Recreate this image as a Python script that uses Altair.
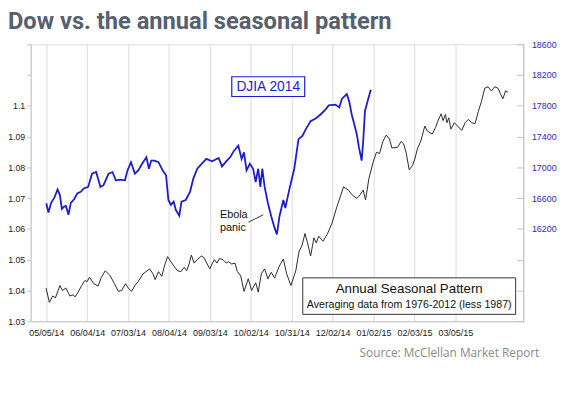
import altair as alt
import pandas as pd

title_text = "Dow vs. the annual seasonal pattern"
source_text = "Source: McClellan Market Report"

# x positions are trading-day indices; labels shown at these indices
tick_idx = [8, 29, 50, 71, 92, 113, 134, 155, 176, 197, 218]
tick_labels = ["05/05/14", "06/04/14", "07/03/14", "08/04/14", "09/03/14", "10/02/14",
               "10/31/14", "12/02/14", "01/02/15", "02/03/15", "03/05/15"]

left_ticks = [1.03, 1.04, 1.05, 1.06, 1.07, 1.08, 1.09, 1.10, 1.11, 1.12]
right_ticks = [15000, 15400, 15800, 16200, 16600, 17000, 17400, 17800, 18200, 18600]

# DJIA 2014 (right axis)
djia_idx = [8, 9.1, 10.5, 12.1, 13.8, 15, 16, 17.2, 18.1, 19.4,
            20.6, 22.3, 23.9, 25.7, 27.3, 29.5, 31.5, 33.6, 35.8, 37.4,
            40, 42, 43.7, 45.9, 48.4, 49.7, 51.5, 53.5, 55.2, 57.2,
            59.4, 60.7, 61.9, 63.6, 65.6, 67.8, 69.5, 70.7, 72, 73.4,
            74.5, 76.3, 77.4, 79.6, 81.8, 83.5, 85.5, 88.1, 90.2, 93.1,
            96.5, 98.2, 100.7, 102.4, 104.4, 106.6, 108.3, 109.5, 110.8, 112.5,
            114.2, 115.5, 116.8, 117.9, 118.9, 120.1, 121.8, 123.5, 125.2, 126.4,
            127.7, 129.7, 130.7, 132.7, 135.3, 137.5, 139.5, 141.2, 143.7, 146.3,
            148.8, 151.3, 153, 156.4, 158.4, 159.8, 162.3, 163.5, 164.8, 166.1,
            167.4, 168.5, 169.9, 170.7, 171.6, 172.9, 174.6]
djia_val = [16534, 16413, 16538, 16602, 16713, 16640, 16461, 16490, 16499, 16384,
            16538, 16585, 16662, 16682, 16726, 16746, 16918, 16939, 16746, 16768,
            16918, 16939, 16832, 16841, 16832, 16960, 17067, 16918, 16960, 17046,
            17131, 16982, 17088, 17088, 17067, 16960, 16896, 16576, 16512, 16554,
            16448, 16371, 16554, 16576, 16682, 16854, 16982, 17054, 17110, 17079,
            17123, 17012, 17088, 17131, 17217, 17281, 17110, 17195, 16960, 17046,
            16982, 16810, 16982, 16746, 16982, 16746, 16534, 16362, 16213, 16128,
            16362, 16576, 16470, 16704, 16982, 17366, 17409, 17494, 17601, 17635,
            17687, 17751, 17806, 17815, 17780, 17892, 17951, 17857, 17687, 17559,
            17430, 17259, 17088, 17345, 17729, 17857, 18007]

# Annual seasonal pattern (left axis)
season_idx = [7.9, 9.6, 11.3, 12.7, 13.8, 15.0, 16.3, 18.1, 20.1, 21.8,
              22.8, 24.4, 26.2, 27.8, 29.0, 30.2, 32.4, 34.6, 36.3, 38.3,
              40.8, 43.0, 45.0, 46.7, 48.7, 50.1, 51.8, 53.5, 55.2, 57.7,
              61.1, 62.8, 63.9, 65.6, 67.3, 68.7, 70.3, 72.0, 73.7, 75.4,
              77.1, 78.8, 80.1, 81.3, 82.5, 83.9, 85.5, 87.6, 88.9, 90.6,
              92.0, 93.1, 94.3, 95.6, 97.0, 98.7, 100.4, 101.6, 103.2, 104.9,
              106.1, 107.8, 109.5, 111.7, 113.4, 115.5, 116.8, 118.4, 120.1, 121.8,
              123.5, 125.2, 127.7, 129.7, 131.4, 133.6, 136.1, 137.8, 139.2, 140.8,
              142.1, 143.7, 145.4, 146.6, 147.9, 150.0, 152.2, 154.7, 157.2, 158.9,
              160.6, 163.1, 165.1, 167.4, 169.0, 170.7, 171.9, 173.6, 175.8, 177.5,
              179.1, 180.8, 182.5, 184.2, 185.4, 188.4, 190.1, 191.4, 192.7, 194.3,
              196.0, 197.2, 198.5, 200.3, 202.3, 203.6, 206.1, 207.8, 209.0, 210.7,
              211.7, 212.9, 213.7, 214.6, 215.7, 217.5, 219.6, 221.3, 223.0, 224.7,
              226.4, 228.1, 229.8, 231.4, 233.1, 234.8, 236.5, 238.2, 239.9, 241.0,
              242.4, 243.8, 244.9]
season_val = [1.0408, 1.0361, 1.0382, 1.0376, 1.0395, 1.0416, 1.0400, 1.0408, 1.0382, 1.0386,
              1.0379, 1.0395, 1.0416, 1.0432, 1.0429, 1.0443, 1.0422, 1.0414, 1.0443, 1.0464,
              1.0448, 1.0422, 1.0397, 1.0400, 1.0422, 1.0408, 1.0397, 1.0416, 1.0429, 1.0454,
              1.0470, 1.0454, 1.0435, 1.0461, 1.0446, 1.0480, 1.0510, 1.0493, 1.0478, 1.0464,
              1.0461, 1.0475, 1.0464, 1.0486, 1.0515, 1.0489, 1.0500, 1.0512, 1.0507, 1.0486,
              1.0470, 1.0486, 1.0500, 1.0489, 1.0504, 1.0500, 1.0489, 1.0493, 1.0486, 1.0489,
              1.0461, 1.0448, 1.0397, 1.0438, 1.0400, 1.0425, 1.0395, 1.0454, 1.0470, 1.0438,
              1.0459, 1.0440, 1.0480, 1.0502, 1.0454, 1.0416, 1.0464, 1.0528, 1.0544, 1.0585,
              1.0555, 1.0512, 1.0571, 1.0555, 1.0576, 1.0560, 1.0582, 1.0619, 1.0672, 1.0704,
              1.0737, 1.0726, 1.0710, 1.0699, 1.0710, 1.0726, 1.0694, 1.0763, 1.0817, 1.0849,
              1.0845, 1.0884, 1.0905, 1.0892, 1.0863, 1.0865, 1.0884, 1.0877, 1.0849, 1.0792,
              1.0806, 1.0827, 1.0860, 1.0886, 1.0934, 1.0918, 1.0908, 1.0929, 1.0950, 1.0974,
              1.0952, 1.0972, 1.0945, 1.0961, 1.0924, 1.0945, 1.0931, 1.0920, 1.0945, 1.0956,
              1.0945, 1.0942, 1.0982, 1.1014, 1.1057, 1.1062, 1.1048, 1.1062, 1.1057, 1.1041,
              1.1023, 1.1049, 1.1044]

W, H = 500, 281
BLUE = "#1c1cd2"
AXIS_GRAY = "#c4c4c4"
LABEL_FONT = "Liberation Sans, Arial, sans-serif"

season_df = pd.DataFrame({"i": season_idx, "v": season_val})
djia_df = pd.DataFrame({"i": djia_idx, "d": djia_val})

labels_js = "[" + ",".join("'%s'" % s for s in tick_labels) + "]"
idx_js = "[" + ",".join(str(i) for i in tick_idx) + "]"

x_enc = alt.X(
    "i:Q",
    scale=alt.Scale(domain=[0, 253], nice=False, zero=False),
    axis=alt.Axis(
        values=tick_idx,
        labelExpr="%s[indexof(%s, datum.value)]" % (labels_js, idx_js),
        title=None, grid=True, gridColor="#e3e3e3", gridWidth=1.3,
        domainColor=AXIS_GRAY, ticks=False, labelPadding=7,
        labelFont=LABEL_FONT, labelFontSize=9.1, labelColor="#1a1a1a",
        labelOverlap=False, labelFlush=False,
    ),
)

season_line = alt.Chart(season_df).mark_line(color="#2a2a2a", strokeWidth=1).encode(
    x=x_enc,
    y=alt.Y(
        "v:Q",
        scale=alt.Scale(domain=[1.03, 1.12], nice=False, zero=False),
        axis=alt.Axis(
            orient="left", values=left_ticks, title=None, grid=False,
            labelExpr="datum.value > 1.105 ? '' : format(datum.value, '~g')",
            domainColor=AXIS_GRAY, tickColor=AXIS_GRAY, tickSize=4, labelPadding=2,
            labelFont=LABEL_FONT, labelFontSize=8.9, labelColor="#1a1a1a",
        ),
    ),
)

djia_line = alt.Chart(djia_df).mark_line(color=BLUE, strokeWidth=1.8).encode(
    x=alt.X("i:Q", scale=alt.Scale(domain=[0, 253], nice=False, zero=False)),
    y=alt.Y(
        "d:Q",
        scale=alt.Scale(domain=[15000, 18600], nice=False, zero=False),
        axis=alt.Axis(
            orient="right", values=right_ticks, title=None, grid=False,
            labelExpr="datum.value < 16000 ? '' : format(datum.value, 'd')",
            domain=False, offset=-7, tickColor=AXIS_GRAY, tickSize=7, labelPadding=8,
            labelFont=LABEL_FONT, labelFontSize=9, labelColor="#2626c8",
        ),
    ),
)

one = alt.Data(values=[{}])

right_border = alt.Chart(one).mark_rule(color=AXIS_GRAY, strokeWidth=1).encode(
    x=alt.value(W), y=alt.value(0), y2=alt.value(H)
)

djia_box = alt.Chart(one).mark_rect(fill="white", stroke=BLUE, strokeWidth=1.2).encode(
    x=alt.value(204), x2=alt.value(278), y=alt.value(33), y2=alt.value(53)
)
djia_label = alt.Chart(one).mark_text(
    text="DJIA 2014", font="Liberation Sans", fontSize=14, color=BLUE,
    align="center", baseline="middle"
).encode(x=alt.value(241), y=alt.value(43.5))

season_box = alt.Chart(one).mark_rect(fill="white", stroke="#333333", strokeWidth=1).encode(
    x=alt.value(276), x2=alt.value(492), y=alt.value(237), y2=alt.value(274)
)
season_label1 = alt.Chart(one).mark_text(
    text="Annual Seasonal Pattern", font="Liberation Sans", fontSize=13.5, color="#111111",
    align="center", baseline="middle"
).encode(x=alt.value(384), y=alt.value(248.5))
season_label2 = alt.Chart(one).mark_text(
    text="Averaging data from 1976-2012 (less 1987)", font="Liberation Sans", fontSize=10.8,
    color="#111111", align="center", baseline="middle"
).encode(x=alt.value(384), y=alt.value(264.5))

ebola1 = alt.Chart(one).mark_text(
    text="Ebola", font="Liberation Sans", fontSize=11, color="#111111",
    align="left", baseline="middle"
).encode(x=alt.value(192), y=alt.value(173))
ebola2 = alt.Chart(one).mark_text(
    text="panic", font="Liberation Sans", fontSize=11, color="#111111",
    align="left", baseline="middle"
).encode(x=alt.value(192), y=alt.value(186))
ebola_line = alt.Chart(one).mark_rule(color="#333333", strokeWidth=1).encode(
    x=alt.value(221), y=alt.value(180.5), x2=alt.value(236), y2=alt.value(173)
)

title_mark = alt.Chart(one).mark_text(
    text=title_text, font="Roboto", fontWeight="bold", fontSize=24, color="#56606f",
    align="left", baseline="alphabetic"
).encode(x=alt.value(-23), y=alt.value(-15))

source_mark = alt.Chart(one).mark_text(
    text=source_text, font="Open Sans", fontSize=12, color="#8a8a8a",
    align="right", baseline="middle"
).encode(x=alt.value(516), y=alt.value(313))

chart = alt.layer(
    season_line, djia_line, right_border,
    djia_box, djia_label, season_box, season_label1, season_label2,
    ebola1, ebola2, ebola_line, title_mark, source_mark,
).resolve_scale(y="independent").properties(
    width=W, height=H,
    autosize="none",
    padding={"left": 23, "top": 34, "right": 38, "bottom": 67},
).configure_view(stroke=None).configure(background="white")

chart.save("out.html", embed_options={"renderer": "svg", "actions": False})
